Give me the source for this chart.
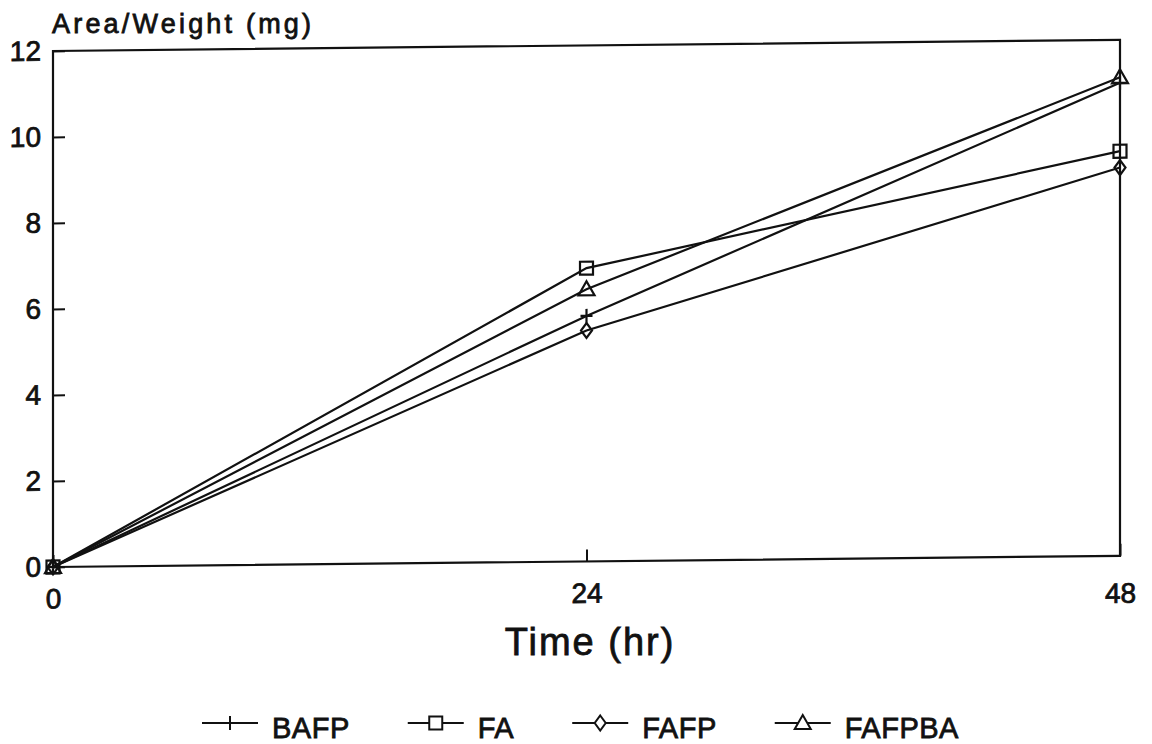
<!DOCTYPE html>
<html>
<head>
<meta charset="utf-8">
<script src="https://cdn.jsdelivr.net/npm/d3@7"></script>
<style>
  body { margin: 0; background: #fff; }
  text {
    font-family: "Liberation Sans", Arial, sans-serif;
    fill: #111;
    stroke: #111;
    stroke-width: 0.8px;
  }
</style>
</head>
<body>
<div id="chart"></div>
<script>
// Data
const times = [0, 24, 48];
const seriesNames = ["BAFP", "FA", "FAFP", "FAFPBA"];
const markers = ["plus", "square", "diamond", "triangle"];
const bafp = [0, 5.71, 11.0];
const fa = [0, 6.82, 9.41];
const fafp = [0, 5.37, 9.03];
const fafpba = [0, 6.33, 11.13];
const xTicks = [0, 24, 48];
const yTicks = [0, 2, 4, 6, 8, 10, 12];

const seriesValues = [bafp, fa, fafp, fafpba];
const series = seriesNames.map((name, i) => ({
  name,
  marker: markers[i],
  points: times.map((t, j) => ({ t, v: seriesValues[i][j] })),
}));

// Dimensions
let dimensions = {
  width: 1152,
  height: 744,
  left: 53,
  right: 1120,
  top: 51,
  bottom: 567,
};

const svg = d3
  .select("#chart")
  .append("svg")
  .attr("width", dimensions.width)
  .attr("height", dimensions.height);

// the scanned figure is slightly sheared, so tilt the plot a little
const ctr = svg
  .append("g")
  .attr(
    "transform",
    `translate(${dimensions.left},0) skewY(-0.6) translate(${-dimensions.left},0)`
  );

// Scales
const xScale = d3
  .scaleLinear()
  .domain([0, 48])
  .range([dimensions.left, dimensions.right]);

const yScale = d3
  .scaleLinear()
  .domain([0, 12])
  .range([dimensions.bottom, dimensions.top]);

// Axes
const yAxis = d3
  .axisLeft(yScale)
  .tickValues(yTicks)
  .tickSize(-12)
  .tickPadding(12);

const xAxis = d3
  .axisBottom(xScale)
  .tickValues(xTicks)
  .tickSize(-12)
  .tickPadding(19);

const yAxisG = ctr
  .append("g")
  .attr("transform", `translate(${dimensions.left},0)`)
  .call(yAxis);

const xAxisG = ctr
  .append("g")
  .attr("transform", `translate(0,${dimensions.bottom})`)
  .call(xAxis);

[yAxisG, xAxisG].forEach((g) => {
  g.select(".domain").remove();
  g.selectAll(".tick line").attr("stroke", "#111").attr("stroke-width", 2);
  g.selectAll(".tick text")
    .attr("font-size", 28)
    .attr("fill", "#111")
    .attr("font-family", "Liberation Sans, Arial, sans-serif");
});
// the right-hand label sits a little lower in the scan
xAxisG.selectAll(".tick text").attr("dy", (d) => (d === 48 ? "1.0em" : "0.8em"));

// Frame
ctr
  .append("rect")
  .attr("x", dimensions.left)
  .attr("y", dimensions.top)
  .attr("width", dimensions.right - dimensions.left)
  .attr("height", dimensions.bottom - dimensions.top)
  .attr("fill", "none")
  .attr("stroke", "#111")
  .attr("stroke-width", 2.2);

// Marker shapes
const markerPath = (type) => {
  if (type === "plus") return "M0,-7V7M-6,0H6";
  if (type === "square") return "M-6.5,-6.5h13v13h-13Z";
  if (type === "diamond") return "M0,-7.5L5.5,0L0,7.5L-5.5,0Z";
  return "M0,-8L8,6L-8,6Z";
};

// Lines
const line = d3
  .line()
  .x((d) => xScale(d.t))
  .y((d) => yScale(d.v));

const seriesG = ctr
  .selectAll("g.series")
  .data(series)
  .join("g")
  .classed("series", true);

seriesG
  .append("path")
  .attr("d", (d) => line(d.points))
  .attr("fill", "none")
  .attr("stroke", "#111")
  .attr("stroke-width", 2.2);

seriesG
  .selectAll("path.marker")
  .data((d) => d.points.map((p) => ({ ...p, marker: d.marker })))
  .join("path")
  .classed("marker", true)
  .attr("transform", (d) => `translate(${xScale(d.t)},${yScale(d.v)})`)
  .attr("d", (d) => markerPath(d.marker))
  .attr("fill", "none")
  .attr("stroke", "#111")
  .attr("stroke-width", 2.2);

// Titles
svg
  .append("text")
  .attr("x", 52)
  .attr("y", 33)
  .attr("font-size", 27)
  .attr("letter-spacing", 3.2)
  .text("Area/Weight (mg)");

svg
  .append("text")
  .attr("x", 590)
  .attr("y", 655)
  .attr("text-anchor", "middle")
  .attr("font-size", 38)
  .attr("letter-spacing", 2)
  .attr("stroke-width", 0.6)
  .text("Time (hr)");

// Legend
const legend = svg.append("g").attr("transform", "translate(202,723)");
let legendX = 0;
series.forEach((s) => {
  const item = legend.append("g").attr("transform", `translate(${legendX},0)`);
  item
    .append("line")
    .attr("x1", 0)
    .attr("x2", 56)
    .attr("stroke", "#111")
    .attr("stroke-width", 2.2);
  item
    .append("path")
    .attr("transform", "translate(28,0)")
    .attr("d", markerPath(s.marker))
    .attr("fill", "#fff")
    .attr("stroke", "#111")
    .attr("stroke-width", 2);
  const label = item
    .append("text")
    .attr("x", 70)
    .attr("y", 15)
    .attr("font-size", 29)
    .attr("letter-spacing", 0.5)
    .text(s.name);
  legendX += 70 + label.node().getComputedTextLength() + 58;
});
</script>
</body>
</html>
